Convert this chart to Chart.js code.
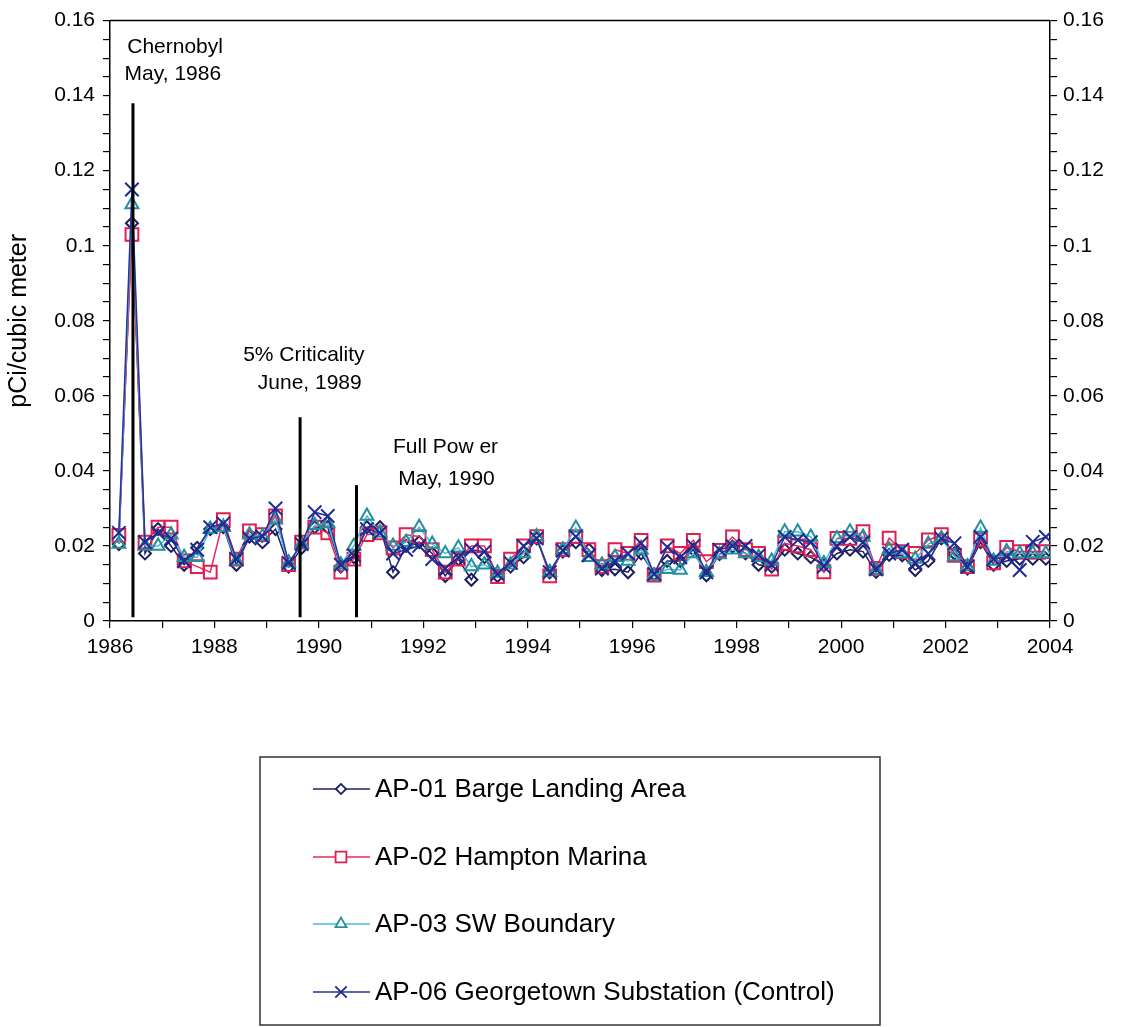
<!DOCTYPE html>
<html>
<head>
<meta charset="utf-8">
<script src="https://cdn.jsdelivr.net/npm/chart.js@4.4.0/dist/chart.umd.min.js"></script>
<style>
  html, body { margin: 0; padding: 0; background: #fff; }
  #wrap { width: 1124px; height: 1027px; }
</style>
</head>
<body>
<div id="wrap"><canvas id="airChart" width="1124" height="1027"></canvas></div>
<script>
// Quarterly sampling dates (decimal years)
const sampleYears = [
  1986.17, 1986.42, 1986.67, 1986.92,
  1987.17, 1987.42, 1987.67, 1987.92,
  1988.17, 1988.42, 1988.67, 1988.92,
  1989.17, 1989.42, 1989.67, 1989.92,
  1990.17, 1990.42, 1990.67, 1990.92,
  1991.17, 1991.42, 1991.67, 1991.92,
  1992.17, 1992.42, 1992.67, 1992.92,
  1993.17, 1993.42, 1993.67, 1993.92,
  1994.17, 1994.42, 1994.67, 1994.92,
  1995.17, 1995.42, 1995.67, 1995.92,
  1996.17, 1996.42, 1996.67, 1996.92,
  1997.17, 1997.42, 1997.67, 1997.92,
  1998.17, 1998.42, 1998.67, 1998.92,
  1999.17, 1999.42, 1999.67, 1999.92,
  2000.17, 2000.42, 2000.67, 2000.92,
  2001.17, 2001.42, 2001.67, 2001.92,
  2002.17, 2002.42, 2002.67, 2002.92,
  2003.17, 2003.42, 2003.67, 2003.92,
];

// pCi per cubic meter, one value per quarter
const ap01 = [
  0.0205, 0.106, 0.018, 0.0245,
  0.020, 0.015, 0.0195, 0.0245,
  0.025, 0.015, 0.0225, 0.021,
  0.0245, 0.0145, 0.0195, 0.025,
  0.025, 0.0145, 0.017, 0.025,
  0.025, 0.013, 0.020, 0.021,
  0.018, 0.012, 0.0165, 0.011,
  0.017, 0.012, 0.0145, 0.017,
  0.022, 0.013, 0.0185, 0.021,
  0.019, 0.0136, 0.0138, 0.013,
  0.018, 0.0125, 0.016, 0.016,
  0.019, 0.0122, 0.0178, 0.0198,
  0.018, 0.015, 0.0145, 0.019,
  0.018, 0.017, 0.0148, 0.018,
  0.019, 0.0185, 0.0131, 0.0176,
  0.0175, 0.0136, 0.016, 0.022,
  0.018, 0.014, 0.021, 0.015,
  0.016, 0.0166, 0.0166, 0.0166,
];

const ap02 = [
  0.0228, 0.103, 0.021, 0.025,
  0.025, 0.016, 0.0145, 0.013,
  0.027, 0.0165, 0.024, 0.023,
  0.028, 0.015, 0.021, 0.025,
  0.0235, 0.013, 0.0165, 0.023,
  0.0235, 0.0195, 0.023, 0.0225,
  0.019, 0.013, 0.0165, 0.020,
  0.020, 0.0118, 0.0165, 0.020,
  0.0225, 0.012, 0.019, 0.0225,
  0.019, 0.0145, 0.019, 0.018,
  0.0215, 0.0122, 0.020, 0.018,
  0.0215, 0.0158, 0.0188, 0.0224,
  0.019, 0.018, 0.0138, 0.0207,
  0.020, 0.019, 0.0131, 0.022,
  0.022, 0.0238, 0.014, 0.0221,
  0.0185, 0.018, 0.0216, 0.023,
  0.0175, 0.0145, 0.0216, 0.0155,
  0.0196, 0.0185, 0.0185, 0.0185,
];

const ap03 = [
  0.0205, 0.111, 0.020, 0.020,
  0.023, 0.017, 0.017, 0.0245,
  0.025, 0.016, 0.023, 0.0225,
  0.027, 0.0155, 0.0205, 0.0255,
  0.026, 0.015, 0.020, 0.028,
  0.0235, 0.020, 0.021, 0.025,
  0.0205, 0.018, 0.0195, 0.0145,
  0.015, 0.0128, 0.015, 0.018,
  0.0225, 0.013, 0.019, 0.0248,
  0.017, 0.015, 0.017, 0.016,
  0.019, 0.012, 0.0138, 0.0136,
  0.018, 0.013, 0.0177, 0.019,
  0.018, 0.017, 0.016, 0.0238,
  0.0238, 0.0224, 0.0153, 0.022,
  0.0238, 0.0224, 0.0135, 0.019,
  0.018, 0.0165, 0.0205, 0.022,
  0.0172, 0.0145, 0.0248, 0.016,
  0.0185, 0.018, 0.018, 0.018,
];

const ap06 = [
  0.0235, 0.115, 0.021, 0.0235,
  0.022, 0.016, 0.019, 0.025,
  0.026, 0.0165, 0.022, 0.0225,
  0.030, 0.0155, 0.0205, 0.029,
  0.028, 0.015, 0.0175, 0.0245,
  0.0235, 0.018, 0.019, 0.020,
  0.0165, 0.014, 0.017, 0.019,
  0.0185, 0.0125, 0.0155, 0.020,
  0.022, 0.013, 0.0188, 0.0225,
  0.0175, 0.014, 0.016, 0.018,
  0.0207, 0.0125, 0.0197, 0.017,
  0.020, 0.013, 0.019, 0.020,
  0.020, 0.0175, 0.015, 0.0224,
  0.0216, 0.021, 0.0145, 0.020,
  0.0224, 0.021, 0.0138, 0.018,
  0.019, 0.0155, 0.018, 0.022,
  0.0207, 0.0145, 0.0224, 0.0165,
  0.0171, 0.0136, 0.0211, 0.0224,
];

const seriesNames = [
  'AP-01 Barge Landing Area',
  'AP-02 Hampton Marina',
  'AP-03 SW Boundary',
  'AP-06 Georgetown Substation (Control)',
];

// Plant / world events marked with vertical bars
const eventYears = [1986.44, 1989.64, 1990.72];
const eventTops = [0.138, 0.0543, 0.0362];
const eventLabels = [
  ['Chernobyl', 'May, 1986'],
  ['5% Criticality', 'June, 1989'],
  ['Full Pow er', 'May, 1990'],
];

const Y_MIN = 0, Y_MAX = 0.16;
const FONT = '"Liberation Sans", Arial, sans-serif';

function toPoints(values) {
  return values.map((v, i) => ({ x: sampleYears[i], y: v }));
}

function yTickLabel(v) {
  const r = Math.round(v * 1000) / 1000;
  if (Math.abs(r * 50 - Math.round(r * 50)) > 1e-6) return '';
  return String(Number(r.toFixed(2)));
}

// ── event bars and their captions ──────────────────────────────────────────
const eventPlugin = {
  id: 'events',
  afterDatasetsDraw(chart) {
    const { ctx, scales: { x, y }, chartArea } = chart;
    ctx.save();

    // top edge of the plot frame
    ctx.strokeStyle = '#000';
    ctx.lineWidth = 1.5;
    ctx.beginPath();
    ctx.moveTo(chartArea.left, chartArea.top);
    ctx.lineTo(chartArea.right, chartArea.top);
    ctx.stroke();

    ctx.lineWidth = 3;
    eventYears.forEach((yr, i) => {
      const px = x.getPixelForValue(yr);
      ctx.beginPath();
      ctx.moveTo(px, y.getPixelForValue(0.001));
      ctx.lineTo(px, y.getPixelForValue(eventTops[i]));
      ctx.stroke();
    });

    // captions, placed in data units
    const spots = [
      [[1986.33, 0.1528], [1986.28, 0.1456]],
      [[1988.55, 0.0708], [1988.83, 0.0634]],
      [[1991.42, 0.0463], [1991.52, 0.0378]],
    ];
    ctx.fillStyle = '#000';
    ctx.font = `21px ${FONT}`;
    ctx.textAlign = 'left';
    ctx.textBaseline = 'middle';
    eventLabels.forEach((lines, i) => {
      lines.forEach((txt, j) => {
        const [yr, val] = spots[i][j];
        ctx.fillText(txt, x.getPixelForValue(yr), y.getPixelForValue(val));
      });
    });
    ctx.restore();
  },
};

// ── boxed legend under the chart ──────────────────────────────────────────
const boxLegendPlugin = {
  id: 'boxLegend',
  afterDraw(chart) {
    const { ctx } = chart;
    const box = { left: 260, top: 757, right: 880, bottom: 1025 };
    const rowY = [789, 857, 924, 992];
    ctx.save();
    ctx.strokeStyle = '#333';
    ctx.lineWidth = 1.5;
    ctx.strokeRect(box.left, box.top, box.right - box.left, box.bottom - box.top);

    chart.data.datasets.forEach((ds, i) => {
      const cy = rowY[i];
      ctx.strokeStyle = ds.borderColor;
      ctx.lineWidth = 1.5;
      ctx.beginPath();
      ctx.moveTo(313, cy);
      ctx.lineTo(370, cy);
      ctx.stroke();

      ctx.fillStyle = '#fff';
      ctx.strokeStyle = ds.pointBorderColor;
      ctx.lineWidth = 1.8;
      Chart.helpers.drawPoint(ctx, {
        pointStyle: ds.pointStyle,
        radius: ds.pointRadius * 0.85,
        rotation: 0,
        borderWidth: 1.8,
      }, 341, cy);

      ctx.fillStyle = '#000';
      ctx.font = `26px ${FONT}`;
      ctx.textAlign = 'left';
      ctx.textBaseline = 'middle';
      ctx.fillText(seriesNames[i], 375, cy + 1);
    });
    ctx.restore();
  },
};

function makeSeries(name, values, line, marker, style, radius, order) {
  return {
    label: name,
    data: toPoints(values),
    borderColor: line,
    borderWidth: 1.5,
    pointStyle: style,
    pointRadius: radius,
    pointBorderColor: marker,
    pointBackgroundColor: 'rgba(255,255,255,0)',
    pointBorderWidth: 2,
    tension: 0,
    order,
  };
}

const datasets = [
  makeSeries(seriesNames[0], ap01, '#1d2266', '#1b1f60', 'rectRot', 6, 4),
  makeSeries(seriesNames[1], ap02, '#e8285a', '#e01e50', 'rect', 9, 3),
  makeSeries(seriesNames[2], ap03, '#45bde0', '#23909c', 'triangle', 7.5, 2),
  makeSeries(seriesNames[3], ap06, '#2a3397', '#1f2a96', 'crossRot', 9.5, 1),
];

const axisBorder = { display: true, color: '#000', width: 1.5 };
const tickGrid = { drawOnChartArea: false, drawTicks: true, tickLength: 7, color: '#000', lineWidth: 1.2 };

new Chart(document.getElementById('airChart'), {
  type: 'line',
  data: { datasets },
  options: {
    responsive: false,
    animation: false,
    layout: { padding: { top: 20, bottom: 366, left: 0, right: 0 } },
    plugins: {
      legend: { display: false },
      tooltip: { enabled: false },
    },
    scales: {
      x: {
        type: 'linear',
        min: 1986,
        max: 2004,
        border: axisBorder,
        grid: tickGrid,
        ticks: {
          stepSize: 1,
          autoSkip: false,
          maxRotation: 0,
          color: '#000',
          padding: 7,
          font: { family: FONT, size: 21 },
          callback: v => (v % 2 === 0 ? String(v) : ''),
        },
        afterFit: s => { s.height = 40; },
      },
      y: {
        position: 'left',
        min: Y_MIN,
        max: Y_MAX,
        border: axisBorder,
        grid: tickGrid,
        title: {
          display: true,
          text: 'pCi/cubic meter',
          color: '#000',
          font: { family: FONT, size: 25 },
          padding: { top: 4, bottom: 0 },
        },
        ticks: {
          stepSize: 0.005,
          autoSkip: false,
          color: '#000',
          padding: 8,
          font: { family: FONT, size: 21 },
          callback: yTickLabel,
        },
        afterFit: s => { s.width = 110; },
      },
      y2: {
        position: 'right',
        min: Y_MIN,
        max: Y_MAX,
        border: axisBorder,
        grid: tickGrid,
        ticks: {
          stepSize: 0.005,
          autoSkip: false,
          color: '#000',
          padding: 6,
          font: { family: FONT, size: 21 },
          callback: yTickLabel,
        },
        afterFit: s => { s.width = 74; },
      },
    },
  },
  plugins: [eventPlugin, boxLegendPlugin],
});
</script>
</body>
</html>
